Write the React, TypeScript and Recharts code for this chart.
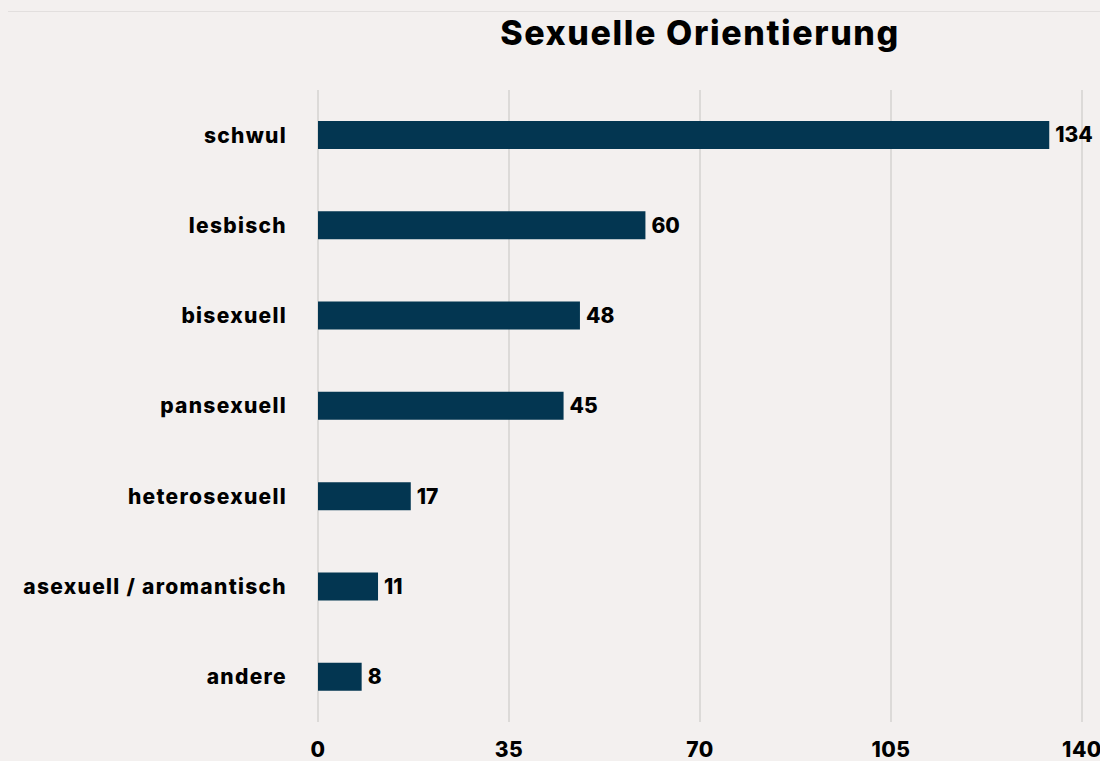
import { BarChart, Bar, XAxis, YAxis, CartesianGrid, LabelList } from 'recharts'

const categories = ['schwul', 'lesbisch', 'bisexuell', 'pansexuell', 'heterosexuell', 'asexuell / aromantisch', 'andere']
const counts = [134, 60, 48, 45, 17, 11, 8]
const xTicks = [0, 35, 70, 105, 140]

const FONT = 'Inter, "Open Sans", sans-serif'
const BG = '#f3f0ef'
const BAR = '#033651'

const data = categories.map((name, i) => ({ name, value: counts[i] }))

export default function App() {
  return (
    <div style={{ position: 'absolute', left: 0, top: 0, width: 1100, height: 761, background: BG, overflow: 'hidden', fontFamily: FONT }}>
      <div style={{ position: 'absolute', left: 8, top: 11, width: 1092, height: 1, background: '#e2dfde' }} />
      <div style={{ position: 'absolute', left: 318, width: 764, top: 12, textAlign: 'center', fontSize: 34, fontWeight: 800, color: '#000', letterSpacing: 1.6 }}>
        Sexuelle Orientierung
      </div>
      <BarChart
        width={1100}
        height={761}
        data={data}
        layout="vertical"
        margin={{ top: 90, right: 18, bottom: 0, left: 0 }}
        barSize={28}
      >
        <CartesianGrid horizontal={false} stroke="#dcdad8" strokeWidth={2} />
        <XAxis
          type="number"
          domain={[0, 140]}
          ticks={xTicks}
          axisLine={false}
          tickLine={false}
          tickSize={0}
          tickMargin={20}
          height={39}
          interval={0}
          tick={{ fill: '#000', fontSize: 21, fontWeight: 800, fontFamily: FONT, letterSpacing: 0.5 }}
        />
        <YAxis
          type="category"
          dataKey="name"
          width={318}
          axisLine={false}
          tickLine={false}
          tickSize={0}
          tickMargin={31}
          interval={0}
          tick={{ fill: '#000', fontSize: 21, fontWeight: 800, fontFamily: FONT, letterSpacing: 1.3 }}
        />
        <Bar dataKey="value" fill={BAR} isAnimationActive={false}>
          <LabelList dataKey="value" position="right" offset={6} fill="#000" fontSize={21} fontWeight={800} fontFamily={FONT} />
        </Bar>
      </BarChart>
    </div>
  )
}
